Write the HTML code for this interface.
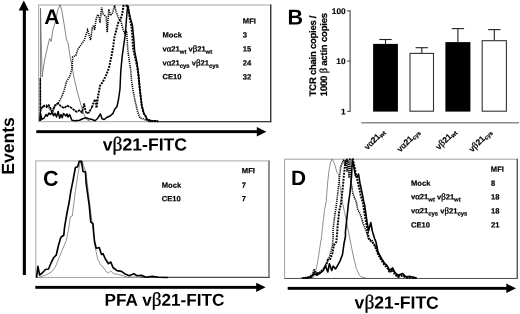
<!DOCTYPE html>
<html lang="en"><head><meta charset="utf-8"><title>Figure</title>
<style>
html,body{margin:0;padding:0;background:#fff;overflow:hidden}
svg{display:block}
svg .g{font-family:"Liberation Serif",serif;font-weight:normal}
svg .gb{font-weight:normal;stroke:#000;stroke-width:0.3px}
svg text{font-family:"Liberation Sans",sans-serif;font-weight:bold;fill:#000;text-rendering:geometricPrecision}
</style></head><body>
<svg width="520" height="314" viewBox="0 0 520 314">
<rect x="0" y="0" width="520" height="314" fill="#fff"/>
<g id="events-axis">
<rect x="22.8" y="10" width="3.1" height="265" fill="#000"/>
<polygon points="23.8,0.6 18.7,10.6 28.8,10.6" fill="#000"/>
<text transform="translate(13.9,146) rotate(-90)" text-anchor="middle" font-size="17.6">Events</text>
</g>
<g id="panelA">
<rect x="38.6" y="5" width="232.1" height="116.6" fill="#fff" stroke="#b4b4b4" stroke-width="1.2"/>
<line x1="270.7" y1="4.4" x2="270.7" y2="122.2" stroke="#333" stroke-width="1.3"/>
<line x1="148" y1="121.6" x2="271.3" y2="121.6" stroke="#3a3a3a" stroke-width="1.1"/>
<polyline points="40.5,121.0 40.5,8.0 41.4,50.0 42.2,77.0 42.9,71.0 45.0,58.0 47.3,48.0 49.6,38.5 51.2,41.5 52.7,30.8 55.0,23.0 58.0,9.2 60.1,4.8 61.9,10.8 64.2,24.6 66.5,40.0 68.1,43.0 69.6,53.8 71.9,66.0 74.2,78.5 77.3,91.8 81.2,105.7 84.2,115.0 86.5,119.5 90.0,121.0" fill="none" stroke="#666" stroke-width="0.8"/>
<polyline points="41.0,108.8 44.2,105.7 47.3,105.0 50.4,110.0 52.7,113.0 55.0,105.0 58.0,103.4 61.2,98.0 64.2,90.3 66.5,81.5 69.6,77.0 71.9,69.0 72.7,57.0 75.8,55.4 78.0,49.0 81.2,44.6 84.4,40.0 86.2,33.8 87.6,30.0 89.2,35.4 90.6,40.0 92.3,27.7 93.8,25.2 94.6,30.0 96.2,18.5 97.7,14.6 99.2,17.0 100.0,23.0 101.6,7.7 103.0,13.8 104.6,15.4 106.2,17.0 107.2,32.3 108.8,9.2 110.3,15.4 112.3,13.8 114.6,5.4 116.2,12.3 118.5,17.7 120.8,20.8 123.0,29.2 124.6,33.0 126.6,30.8 127.7,49.2 129.2,60.0 130.8,70.8 131.5,80.0 132.6,88.0 133.0,90.3 135.4,102.6 137.7,111.8 140.0,118.0 143.0,118.8 146.2,120.3 150.0,121.0" fill="none" stroke="#000" stroke-width="1.6" stroke-dasharray="1.15 0.95"/>
<polyline points="40.3,121.0 40.3,78.0 40.4,111.8 41.2,108.8 43.5,105.7 46.5,107.2 48.8,105.0 52.0,111.0 55.0,105.7 58.0,103.4 61.2,106.5 64.2,108.0 67.3,105.7 70.4,107.2 73.5,109.5 76.5,111.8 79.6,110.3 82.0,112.6 84.2,103.4 85.0,108.8 86.5,113.4 88.8,112.6 92.0,107.2" fill="none" stroke="#000" stroke-width="1.6" stroke-dasharray="2.6 0.6"/>
<polyline points="92.0,107.2 94.2,101.0 95.8,99.5 96.5,108.0 98.0,96.5 100.0,86.0 103.0,81.5 106.0,75.4 109.0,67.7 111.6,55.4 113.2,46.5 114.3,38.0 116.6,28.8 118.6,21.5 120.8,18.5 122.3,13.5 123.5,5.8 128.0,5.6 130.0,20.0 131.5,26.0 132.3,35.4 133.0,47.7 134.6,55.4 137.0,66.0 138.0,72.3 139.7,88.0 140.3,93.4 141.8,105.7 143.8,113.4 145.4,115.7 147.0,119.5 150.8,120.8 158.0,121.2" fill="none" stroke="#000" stroke-width="2" stroke-dasharray="1.9 1.1"/>
<polyline points="39.8,121.0 40.4,113.4 42.0,119.5 44.2,118.0 46.0,114.5 47.3,116.2 49.0,113.0 50.4,114.5 52.0,112.6 53.5,115.8 55.0,113.4 56.5,117.0 58.2,111.5 59.6,118.2 61.0,114.4 62.2,117.8 63.5,113.5 65.8,116.0 67.0,114.0 68.0,117.0 69.6,114.6 71.9,120.3 75.0,120.8 79.6,120.3 82.7,118.8 85.8,117.7 88.8,118.8 92.0,119.5 95.0,120.8 97.3,118.8 100.4,114.0 102.0,118.8 104.2,119.5 107.3,117.2 110.4,115.7 113.0,113.4 114.6,109.5 117.0,106.5 118.5,99.5 120.0,88.8 120.8,70.8 122.3,55.4 123.8,44.6 125.4,33.8 126.5,18.5 127.7,5.4 130.0,17.0 132.3,24.6 133.8,38.5 134.6,50.8 137.0,63.0 138.5,73.8 139.7,88.0 140.3,93.4 141.8,105.7 143.8,113.4 145.4,115.7 147.0,119.5 150.8,120.8 158.5,121.3" fill="none" stroke="#000" stroke-width="1.5" stroke-linejoin="round"/>
<text x="44.2" y="24.1" transform="rotate(0.04 65 24)" font-size="21.2">A</text>
<g font-size="7.6" stroke="#000" stroke-width="0.2" transform="rotate(0.04 200 50)">
<text x="242.8" y="23.6">MFI</text>
<text x="162.5" y="37.5">Mock</text><text x="242.8" y="37.5">3</text>
<text x="162.5" y="51.5">v<tspan class="g gb" font-size="8.8">α</tspan>21<tspan font-size="5.9" dy="2.2">wt</tspan><tspan dy="-2.2"> v</tspan><tspan class="g gb" font-size="8.8">β</tspan>21<tspan font-size="5.9" dy="2.2">wt</tspan></text><text x="242.8" y="51.5">15</text>
<text x="162.5" y="65.5">v<tspan class="g gb" font-size="8.8">α</tspan>21<tspan font-size="5.9" dy="2.2">cys</tspan><tspan dy="-2.2"> v</tspan><tspan class="g gb" font-size="8.8">β</tspan>21<tspan font-size="5.9" dy="2.2">cys</tspan></text><text x="242.8" y="65.5">24</text>
<text x="162.5" y="79.4">CE10</text><text x="242.8" y="79.4">32</text>
</g>
<rect x="36.3" y="130.2" width="222" height="2.9" fill="#000"/>
<polygon points="266.4,131.65 256.8,126.9 256.8,136.4" fill="#000"/>
<text x="102.8" y="150.4" transform="rotate(0.04 123 150)" font-size="17.6">v<tspan class="g" font-size="19.5" stroke="#000" stroke-width="0.3">β</tspan>21-FITC</text>
</g>
<g id="panelB">
<text x="287.4" y="24.5" transform="rotate(0.04 309 24)" font-size="21.5">B</text>
<text transform="translate(316,96.2) rotate(-90)" font-size="9.5" stroke="#000" stroke-width="0.2" textLength="80.7" lengthAdjust="spacing">TCR chain copies /</text>
<text transform="translate(326.6,96.2) rotate(-90)" font-size="9.5" stroke="#000" stroke-width="0.2" textLength="83.3" lengthAdjust="spacing">1000 <tspan class="g gb" font-size="10.5">β</tspan> actin copies</text>
<g stroke="#555" stroke-width="1.2" fill="none">
<line x1="350.1" y1="10.3" x2="350.1" y2="112"/>
<line x1="347.2" y1="10.9" x2="350.1" y2="10.9"/>
<line x1="347.2" y1="61.1" x2="350.1" y2="61.1"/>
<line x1="347.2" y1="111.4" x2="350.1" y2="111.4"/>
<line x1="361.2" y1="122.8" x2="519" y2="122.8" stroke="#8c8c8c" stroke-width="1.5"/>
</g>
<g font-size="8.3" text-anchor="end" transform="rotate(0.04 340 60)" stroke="#000" stroke-width="0.15"><text x="345.6" y="13.9">100</text><text x="345.6" y="64.1">10</text><text x="345.6" y="114.5">1</text></g>
<line x1="385.5" y1="39.5" x2="385.5" y2="43.9" stroke="#222" stroke-width="1.1"/>
<line x1="379.3" y1="39.5" x2="391.7" y2="39.5" stroke="#222" stroke-width="1.1"/>
<rect x="373.1" y="43.9" width="24.8" height="67.7" fill="#000"/>
<line x1="421.8" y1="47.7" x2="421.8" y2="53" stroke="#222" stroke-width="1.1"/>
<line x1="415.6" y1="47.7" x2="427.9" y2="47.7" stroke="#222" stroke-width="1.1"/>
<rect x="410.0" y="53.4" width="23.5" height="57.8" fill="#fff" stroke="#333" stroke-width="1.1"/>
<line x1="457.9" y1="28.6" x2="457.9" y2="42.1" stroke="#222" stroke-width="1.1"/>
<line x1="451.7" y1="28.6" x2="464.1" y2="28.6" stroke="#222" stroke-width="1.1"/>
<rect x="445.4" y="42.1" width="25.0" height="69.5" fill="#000"/>
<line x1="494.3" y1="29.6" x2="494.3" y2="40.3" stroke="#222" stroke-width="1.1"/>
<line x1="488.1" y1="29.6" x2="500.5" y2="29.6" stroke="#222" stroke-width="1.1"/>
<rect x="482.2" y="40.699999999999996" width="24.2" height="70.5" fill="#fff" stroke="#333" stroke-width="1.1"/>
<text transform="translate(385.3,132.4) rotate(-45)" text-anchor="end" font-size="8.3" stroke="#000" stroke-width="0.2">v<tspan class="g gb" font-size="9.4">α</tspan>21<tspan font-size="5.8" dy="1.5">wt</tspan></text>
<text transform="translate(420.3,132.4) rotate(-45)" text-anchor="end" font-size="8.3" stroke="#000" stroke-width="0.2">v<tspan class="g gb" font-size="9.4">α</tspan>21<tspan font-size="5.8" dy="1.5">cys</tspan></text>
<text transform="translate(456.8,132.4) rotate(-45)" text-anchor="end" font-size="8.3" stroke="#000" stroke-width="0.2">v<tspan class="g gb" font-size="9.4">β</tspan>21<tspan font-size="5.8" dy="1.5">wt</tspan></text>
<text transform="translate(492.3,132.4) rotate(-45)" text-anchor="end" font-size="8.3" stroke="#000" stroke-width="0.2">v<tspan class="g gb" font-size="9.4">β</tspan>21<tspan font-size="5.8" dy="1.5">cys</tspan></text>
</g>
<g id="panelC">
<rect x="35.8" y="160.9" width="233.1" height="116.6" fill="#fff" stroke="#a8a8a8" stroke-width="1"/>
<line x1="269" y1="160.4" x2="269" y2="277.9" stroke="#666" stroke-width="1.2"/>
<line x1="140" y1="277.4" x2="269.6" y2="277.4" stroke="#4a4a4a" stroke-width="1.1"/>
<polyline points="36.0,277.3 39.2,277.2 45.4,275.2 51.5,272.0 55.4,266.8 59.2,257.5 63.0,248.3 66.2,240.6 68.5,229.8 70.3,216.8 72.3,216.0 73.0,209.8 75.4,191.4 77.7,176.0 79.2,166.8 80.8,161.4 82.3,161.4 83.8,166.8 85.7,171.4 87.0,180.6 88.5,194.0 90.0,206.0 92.0,222.0 93.5,232.0 95.4,248.3 97.7,259.0 100.8,265.2 103.0,266.8 106.0,271.4 108.5,273.0 110.8,271.0 113.8,273.7 118.5,274.5 123.0,275.7 127.7,277.2 140.0,276.8 144.6,277.3" fill="none" stroke="#666" stroke-width="0.7"/>
<polyline points="36.0,277.3 36.6,277.0 37.9,266.3 39.6,275.0 42.3,273.0 45.4,269.5 48.5,269.0 51.5,262.0 53.8,257.5 56.2,255.2 58.5,245.2 60.8,237.5 61.5,236.8 63.8,235.2 64.6,226.8 67.0,213.0 69.2,202.0 70.8,191.4 73.0,180.6 75.4,167.5 77.7,166.8 79.2,161.4 81.5,161.4 83.0,171.4 85.4,172.0 86.2,183.7 87.7,194.5 89.2,205.2 90.8,222.0 93.0,223.7 93.8,234.5 94.6,242.0 96.2,248.3 99.2,247.5 101.5,254.5 103.0,253.7 105.4,259.0 108.5,263.7 110.8,262.0 113.0,267.5 117.0,270.6 121.5,271.4 124.6,273.7 129.2,275.7 133.8,273.7 137.0,275.7 141.5,275.2 146.0,277.2 152.3,276.3 158.5,277.2 167.7,277.5" fill="none" stroke="#000" stroke-width="1.65" stroke-linejoin="round"/>
<text x="43.1" y="185.7" transform="rotate(0.04 64 185)" font-size="21.5">C</text>
<g font-size="7.6" stroke="#000" stroke-width="0.2" transform="rotate(0.04 200 185)">
<text x="241.8" y="173.2">MFI</text>
<text x="161.8" y="187.7">Mock</text><text x="241.8" y="187.7">7</text>
<text x="161.8" y="201.2">CE10</text><text x="241.8" y="201.2">7</text>
</g>
<rect x="35.3" y="285.9" width="222" height="2.9" fill="#000"/>
<polygon points="265.6,287.35 256.2,282.7 256.2,292" fill="#000"/>
<text x="104.6" y="305.8" transform="rotate(0.04 125 306)" font-size="17.2">PFA v<tspan class="g" font-size="19.2" stroke="#000" stroke-width="0.3">β</tspan>21-FITC</text>
</g>
<g id="panelD">
<rect x="284.6" y="159.2" width="232.7" height="119.2" fill="#fff" stroke="#a0a0a0" stroke-width="1"/>
<line x1="517.3" y1="158.7" x2="517.3" y2="279" stroke="#555" stroke-width="1.3"/>
<line x1="284.6" y1="278.5" x2="518" y2="278.5" stroke="#555" stroke-width="1.1"/>
<polyline points="300.0,278.0 310.0,277.8 313.2,277.5 315.5,273.0 317.0,265.2 318.6,256.0 320.2,245.2 321.7,236.0 322.3,229.4 324.6,209.4 326.2,202.0 327.7,181.7 329.2,169.4 330.8,161.7 332.3,159.2 334.6,164.0 337.0,172.5 338.5,174.0 340.0,186.0 342.3,201.7 344.6,212.5 347.7,227.8 349.4,236.0 351.7,248.3 354.0,259.0 356.3,268.3 359.4,275.2 361.2,276.8 365.8,278.0" fill="none" stroke="#444" stroke-width="0.6"/>
<polyline points="302.5,278.0 308.6,277.2 312.5,274.5 314.0,269.0 317.0,274.5 320.2,273.0 323.2,269.8 325.5,265.2 327.8,260.6 330.2,254.5 332.5,245.2 333.2,236.0 333.0,229.4 334.6,217.0 336.2,206.3 338.2,189.4 339.6,177.0 340.6,167.2 342.6,161.7 343.8,159.5 345.0,166.0 346.0,160.0 347.0,172.0 348.0,160.0 349.0,178.0 350.0,161.0 351.0,184.0 351.5,184.8 353.0,194.0 355.4,200.0 356.2,201.7 357.7,209.4 360.8,215.5 363.0,223.2 366.2,231.0 368.5,238.6 372.0,240.6 375.0,245.2 378.0,253.0 381.2,259.0 384.2,263.7 387.3,266.8 389.6,271.4 392.7,269.0 395.0,273.7 398.0,276.3 402.7,274.5 405.8,277.2 410.4,276.8 416.5,278.0" fill="none" stroke="#000" stroke-width="1.6" stroke-dasharray="1.15 0.95"/>
<polyline points="307.0,278.0 311.7,276.3 314.8,272.0 318.6,273.7 321.7,270.6 324.0,268.3 326.3,264.5 327.8,260.0 330.2,259.0 332.5,253.0 334.0,245.2 336.3,242.0 337.0,235.5 337.7,224.8 339.2,211.0 340.8,204.8 342.4,191.0 343.2,183.0 343.9,175.2 344.8,167.5 345.8,160.0 347.5,159.5 353.0,159.5 356.2,175.5 358.5,184.8 360.8,195.5 363.0,203.2 364.6,214.0 367.0,227.8 369.2,240.0 372.0,241.6 375.0,246.2 378.0,254.0 381.2,260.0 384.2,264.7 387.3,267.8 389.6,272.4 392.7,270.0 395.0,274.7 398.0,277.0 402.7,275.5 405.8,277.6 416.5,278.0" fill="none" stroke="#000" stroke-width="2" stroke-dasharray="1.9 1.1"/>
<polyline points="302.5,278.2 311.0,277.2 314.0,273.7 317.0,275.2 320.2,273.0 323.2,270.6 325.5,266.0 327.8,272.0 329.4,263.7 331.7,270.6 333.2,266.0 335.5,269.0 337.8,265.2 340.2,260.6 342.5,254.5 344.0,243.7 345.5,236.0 345.4,232.5 347.0,217.0 348.5,203.2 350.0,192.5 351.5,177.0 352.3,159.5 353.8,166.3 355.4,175.5 357.0,177.0 358.5,174.0 360.0,183.2 362.3,194.0 363.8,202.0 364.6,204.8 367.0,221.7 368.5,231.0 370.8,222.5 372.3,231.0 374.6,238.6 376.0,242.0 378.0,252.0 381.2,258.0 384.2,262.7 387.3,265.8 389.6,270.4 392.7,268.0 395.0,272.7 398.0,275.3 402.7,273.5 405.8,276.8 410.4,276.4 416.5,278.0" fill="none" stroke="#000" stroke-width="1.6" stroke-linejoin="round"/>
<text x="291" y="185.1" transform="rotate(0.04 312 185)" font-size="20.8">D</text>
<g font-size="7.6" stroke="#000" stroke-width="0.2" transform="rotate(0.04 455 200)">
<text x="490.8" y="171.8">MFI</text>
<text x="411" y="185.8">Mock</text><text x="491" y="185.8">8</text>
<text x="411" y="199.4">v<tspan class="g gb" font-size="8.8">α</tspan>21<tspan font-size="5.9" dy="2.2">wt</tspan><tspan dy="-2.2"> v</tspan><tspan class="g gb" font-size="8.8">β</tspan>21<tspan font-size="5.9" dy="2.2">wt</tspan></text><text x="491" y="199.4">18</text>
<text x="411" y="213.4">v<tspan class="g gb" font-size="8.8">α</tspan>21<tspan font-size="5.9" dy="2.2">cys</tspan><tspan dy="-2.2"> v</tspan><tspan class="g gb" font-size="8.8">β</tspan>21<tspan font-size="5.9" dy="2.2">cys</tspan></text><text x="491" y="213.4">18</text>
<text x="411" y="227.5">CE10</text><text x="491" y="227.5">21</text>
</g>
<rect x="287.7" y="286.9" width="220" height="2.9" fill="#000"/>
<polygon points="516,288.35 506.3,283.6 506.3,293.1" fill="#000"/>
<text x="354.6" y="308.6" transform="rotate(0.04 375 309)" font-size="17.6">v<tspan class="g" font-size="19.5" stroke="#000" stroke-width="0.3">β</tspan>21-FITC</text>
</g>
</svg>
</body></html>
